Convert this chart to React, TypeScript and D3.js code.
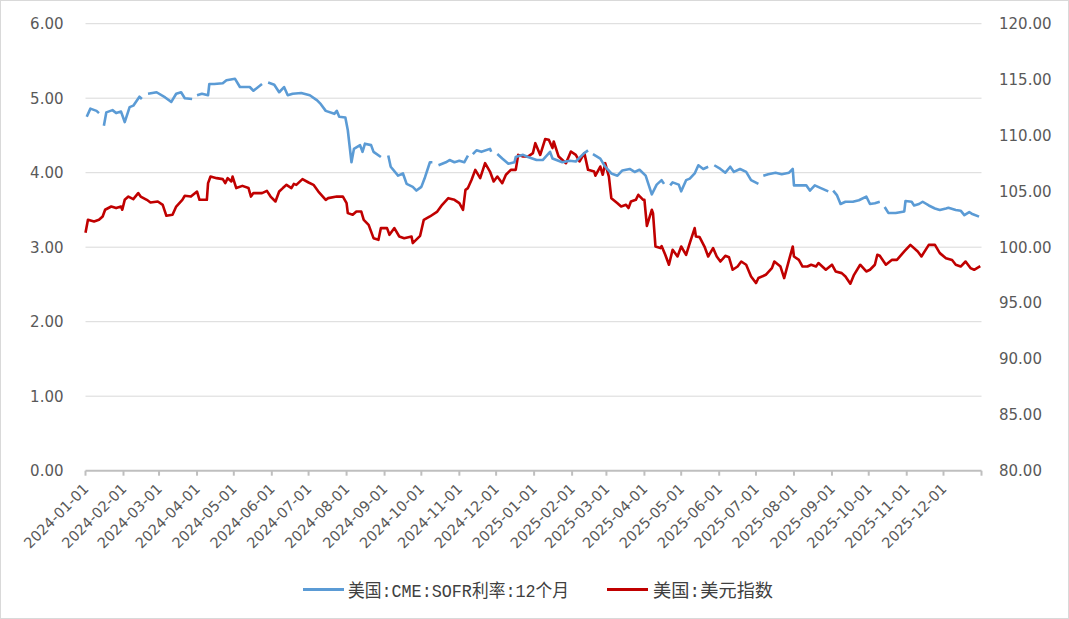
import React from "react";
import * as d3 from "d3";

// ---- Data ----
// 美国:CME:SOFR利率:12个月 (left axis, %); null = holiday gap
const sofrData: [string, number | null][] = [
  ["2024-01-02", 4.75], ["2024-01-05", 4.86], ["2024-01-10", 4.83], ["2024-01-12", 4.8], ["2024-01-15", null],
  ["2024-01-16", 4.63], ["2024-01-18", 4.81], ["2024-01-23", 4.84], ["2024-01-26", 4.8], ["2024-01-30", 4.82],
  ["2024-02-02", 4.68], ["2024-02-06", 4.88], ["2024-02-09", 4.9], ["2024-02-14", 5.02], ["2024-02-16", 4.99],
  ["2024-02-19", null], ["2024-02-21", 5.06], ["2024-02-28", 5.08], ["2024-03-06", 5.01], ["2024-03-11", 4.95],
  ["2024-03-15", 5.06], ["2024-03-19", 5.08], ["2024-03-22", 5.0], ["2024-03-28", 4.99], ["2024-03-29", null],
  ["2024-04-01", 5.04], ["2024-04-05", 5.06], ["2024-04-10", 5.04], ["2024-04-11", 5.19], ["2024-04-15", 5.19],
  ["2024-04-22", 5.2], ["2024-04-25", 5.24], ["2024-05-02", 5.26], ["2024-05-06", 5.15], ["2024-05-14", 5.15],
  ["2024-05-17", 5.1], ["2024-05-24", 5.19], ["2024-05-27", null], ["2024-05-29", 5.21], ["2024-06-03", 5.18],
  ["2024-06-07", 5.08], ["2024-06-11", 5.15], ["2024-06-14", 5.04], ["2024-06-18", 5.06], ["2024-06-25", 5.07],
  ["2024-07-02", 5.04], ["2024-07-08", 4.97], ["2024-07-11", 4.92], ["2024-07-15", 4.83], ["2024-07-22", 4.79],
  ["2024-07-24", 4.83], ["2024-07-26", 4.75], ["2024-07-31", 4.74], ["2024-08-02", 4.57], ["2024-08-05", 4.14],
  ["2024-08-07", 4.32], ["2024-08-12", 4.37], ["2024-08-14", 4.28], ["2024-08-16", 4.39], ["2024-08-21", 4.37],
  ["2024-08-23", 4.28], ["2024-08-29", 4.21], ["2024-09-02", null], ["2024-09-04", 4.23], ["2024-09-06", 4.08],
  ["2024-09-12", 3.96], ["2024-09-16", 3.99], ["2024-09-19", 3.85], ["2024-09-24", 3.81], ["2024-09-27", 3.76],
  ["2024-10-01", 3.81], ["2024-10-04", 3.94], ["2024-10-08", 4.14], ["2024-10-10", 4.14], ["2024-10-14", null],
  ["2024-10-15", 4.1], ["2024-10-21", 4.14], ["2024-10-24", 4.17], ["2024-10-28", 4.14], ["2024-11-01", 4.16],
  ["2024-11-05", 4.14], ["2024-11-08", 4.23], ["2024-11-11", null], ["2024-11-12", 4.25], ["2024-11-15", 4.3],
  ["2024-11-19", 4.28], ["2024-11-26", 4.32], ["2024-11-27", 4.28], ["2024-11-28", null], ["2024-12-02", 4.25],
  ["2024-12-06", 4.19], ["2024-12-11", 4.12], ["2024-12-16", 4.14], ["2024-12-17", 4.21], ["2024-12-23", 4.24],
  ["2024-12-27", 4.21], ["2025-01-03", 4.17], ["2025-01-08", 4.17], ["2025-01-14", 4.28], ["2025-01-16", 4.19],
  ["2025-01-24", 4.14], ["2025-01-30", 4.16], ["2025-02-04", 4.15], ["2025-02-10", 4.25], ["2025-02-14", 4.3],
  ["2025-02-17", null], ["2025-02-18", 4.25], ["2025-02-24", 4.19], ["2025-02-28", 4.08], ["2025-03-05", 3.99],
  ["2025-03-10", 3.96], ["2025-03-14", 4.03], ["2025-03-20", 4.05], ["2025-03-24", 4.01], ["2025-03-28", 4.04],
  ["2025-04-02", 3.96], ["2025-04-07", 3.71], ["2025-04-11", 3.84], ["2025-04-15", 3.9], ["2025-04-17", 3.85],
  ["2025-04-18", null], ["2025-04-22", 3.83], ["2025-04-24", 3.87], ["2025-04-29", 3.84], ["2025-05-01", 3.75],
  ["2025-05-05", 3.9], ["2025-05-08", 3.92], ["2025-05-12", 3.99], ["2025-05-15", 4.1], ["2025-05-19", 4.05],
  ["2025-05-23", 4.08], ["2025-05-26", null], ["2025-05-28", 4.1], ["2025-06-02", 4.05], ["2025-06-06", 4.0],
  ["2025-06-10", 4.08], ["2025-06-13", 4.01], ["2025-06-18", 4.05], ["2025-06-23", 4.01], ["2025-06-27", 3.9],
  ["2025-07-03", 3.85], ["2025-07-04", null], ["2025-07-07", 3.96], ["2025-07-11", 3.98], ["2025-07-17", 4.0],
  ["2025-07-22", 3.98], ["2025-07-28", 4.0], ["2025-07-31", 4.05], ["2025-08-01", 3.83], ["2025-08-04", 3.83],
  ["2025-08-11", 3.83], ["2025-08-14", 3.76], ["2025-08-18", 3.83], ["2025-08-22", 3.8], ["2025-08-29", 3.75],
  ["2025-09-01", null], ["2025-09-02", 3.76], ["2025-09-05", 3.7], ["2025-09-08", 3.58], ["2025-09-12", 3.61],
  ["2025-09-18", 3.61], ["2025-09-23", 3.63], ["2025-09-29", 3.68], ["2025-10-02", 3.58], ["2025-10-06", 3.59],
  ["2025-10-10", 3.61], ["2025-10-13", null], ["2025-10-14", 3.54], ["2025-10-17", 3.46], ["2025-10-23", 3.46],
  ["2025-10-30", 3.48], ["2025-10-31", 3.62], ["2025-11-05", 3.61], ["2025-11-07", 3.56], ["2025-11-11", 3.58],
  ["2025-11-14", 3.61], ["2025-11-19", 3.56], ["2025-11-24", 3.52], ["2025-11-28", 3.5], ["2025-12-03", 3.52],
  ["2025-12-05", 3.53], ["2025-12-11", 3.5], ["2025-12-15", 3.49], ["2025-12-18", 3.43], ["2025-12-22", 3.47],
  ["2025-12-24", 3.45], ["2025-12-30", 3.41],
];

// 美国:美元指数 (right axis)
const dxyData: [string, number][] = [
  ["2024-01-01", 101.3], ["2024-01-03", 102.45], ["2024-01-08", 102.3], ["2024-01-12", 102.45], ["2024-01-15", 102.75],
  ["2024-01-17", 103.35], ["2024-01-22", 103.64], ["2024-01-26", 103.5], ["2024-01-30", 103.64], ["2024-01-31", 103.35],
  ["2024-02-02", 104.24], ["2024-02-05", 104.53], ["2024-02-09", 104.3], ["2024-02-13", 104.84], ["2024-02-15", 104.53],
  ["2024-02-20", 104.24], ["2024-02-23", 104.0], ["2024-02-29", 104.09], ["2024-03-04", 103.79], ["2024-03-07", 102.81],
  ["2024-03-12", 102.9], ["2024-03-15", 103.64], ["2024-03-20", 104.24], ["2024-03-22", 104.6], ["2024-03-27", 104.53],
  ["2024-04-01", 104.98], ["2024-04-03", 104.24], ["2024-04-09", 104.24], ["2024-04-10", 105.73], ["2024-04-12", 106.32],
  ["2024-04-17", 106.18], ["2024-04-22", 106.09], ["2024-04-24", 105.73], ["2024-04-26", 106.18], ["2024-04-29", 105.88],
  ["2024-04-30", 106.32], ["2024-05-03", 105.29], ["2024-05-08", 105.49], ["2024-05-13", 105.29], ["2024-05-15", 104.53],
  ["2024-05-17", 104.84], ["2024-05-22", 104.84], ["2024-05-24", 104.84], ["2024-05-28", 105.04], ["2024-05-31", 104.53],
  ["2024-06-04", 104.09], ["2024-06-07", 104.98], ["2024-06-10", 105.29], ["2024-06-13", 105.58], ["2024-06-17", 105.29],
  ["2024-06-19", 105.67], ["2024-06-21", 105.58], ["2024-06-26", 106.09], ["2024-07-01", 105.79], ["2024-07-05", 105.58],
  ["2024-07-09", 104.98], ["2024-07-15", 104.24], ["2024-07-17", 104.39], ["2024-07-24", 104.53], ["2024-07-29", 104.53],
  ["2024-08-01", 103.94], ["2024-08-02", 103.05], ["2024-08-06", 102.9], ["2024-08-09", 103.19], ["2024-08-13", 103.19],
  ["2024-08-15", 102.45], ["2024-08-19", 102.0], ["2024-08-23", 100.81], ["2024-08-27", 100.66], ["2024-08-29", 101.71],
  ["2024-09-03", 101.71], ["2024-09-05", 101.11], ["2024-09-09", 101.71], ["2024-09-13", 100.96], ["2024-09-17", 100.81],
  ["2024-09-23", 100.96], ["2024-09-24", 100.37], ["2024-09-30", 101.02], ["2024-10-03", 102.45], ["2024-10-08", 102.75],
  ["2024-10-14", 103.19], ["2024-10-18", 103.79], ["2024-10-23", 104.39], ["2024-10-28", 104.24], ["2024-11-01", 103.94],
  ["2024-11-04", 103.35], ["2024-11-06", 105.13], ["2024-11-08", 105.29], ["2024-11-11", 106.03], ["2024-11-14", 106.92],
  ["2024-11-18", 106.18], ["2024-11-22", 107.52], ["2024-11-26", 106.77], ["2024-11-29", 105.88], ["2024-12-02", 106.32],
  ["2024-12-06", 105.73], ["2024-12-09", 106.48], ["2024-12-13", 106.92], ["2024-12-17", 106.92], ["2024-12-19", 108.26],
  ["2024-12-23", 108.11], ["2024-12-27", 108.11], ["2024-12-31", 108.42], ["2025-01-02", 109.31], ["2025-01-06", 108.26],
  ["2025-01-10", 109.67], ["2025-01-13", 109.61], ["2025-01-16", 108.87], ["2025-01-17", 109.46], ["2025-01-21", 108.11],
  ["2025-01-27", 107.52], ["2025-01-31", 108.56], ["2025-02-04", 108.26], ["2025-02-07", 107.67], ["2025-02-11", 108.42],
  ["2025-02-14", 106.92], ["2025-02-19", 106.77], ["2025-02-20", 106.4], ["2025-02-24", 107.22], ["2025-02-26", 106.48],
  ["2025-02-28", 107.52], ["2025-03-03", 106.32], ["2025-03-05", 104.39], ["2025-03-10", 103.94], ["2025-03-13", 103.64],
  ["2025-03-17", 103.79], ["2025-03-19", 103.5], ["2025-03-21", 104.09], ["2025-03-25", 104.24], ["2025-03-27", 104.69],
  ["2025-03-31", 104.24], ["2025-04-01", 104.24], ["2025-04-03", 101.91], ["2025-04-07", 103.35], ["2025-04-08", 103.05],
  ["2025-04-10", 100.06], ["2025-04-14", 99.92], ["2025-04-15", 100.1], ["2025-04-18", 99.32], ["2025-04-21", 98.43],
  ["2025-04-24", 99.77], ["2025-04-28", 99.17], ["2025-05-01", 100.06], ["2025-05-05", 99.32], ["2025-05-08", 100.37],
  ["2025-05-12", 101.71], ["2025-05-13", 100.96], ["2025-05-16", 100.9], ["2025-05-20", 100.06], ["2025-05-23", 99.17],
  ["2025-05-27", 99.92], ["2025-05-30", 99.17], ["2025-06-02", 98.72], ["2025-06-06", 99.23], ["2025-06-09", 99.1],
  ["2025-06-12", 97.98], ["2025-06-16", 98.27], ["2025-06-19", 98.72], ["2025-06-23", 98.43], ["2025-06-27", 97.38],
  ["2025-07-01", 96.79], ["2025-07-03", 97.24], ["2025-07-09", 97.53], ["2025-07-14", 98.13], ["2025-07-16", 98.72],
  ["2025-07-21", 98.27], ["2025-07-24", 97.24], ["2025-07-28", 98.87], ["2025-07-31", 100.06], ["2025-08-01", 99.17],
  ["2025-08-05", 98.87], ["2025-08-08", 98.27], ["2025-08-12", 98.27], ["2025-08-15", 98.43], ["2025-08-19", 98.27],
  ["2025-08-21", 98.58], ["2025-08-27", 97.98], ["2025-09-01", 98.43], ["2025-09-04", 97.83], ["2025-09-09", 97.68],
  ["2025-09-12", 97.38], ["2025-09-16", 96.73], ["2025-09-19", 97.53], ["2025-09-24", 98.43], ["2025-09-29", 97.83],
  ["2025-10-02", 97.98], ["2025-10-06", 98.43], ["2025-10-08", 99.32], ["2025-10-10", 99.23], ["2025-10-15", 98.43],
  ["2025-10-20", 98.87], ["2025-10-24", 98.87], ["2025-10-30", 99.62], ["2025-11-04", 100.21], ["2025-11-10", 99.62],
  ["2025-11-13", 99.17], ["2025-11-19", 100.21], ["2025-11-24", 100.21], ["2025-11-28", 99.47], ["2025-12-03", 99.02],
  ["2025-12-08", 98.85], ["2025-12-11", 98.43], ["2025-12-15", 98.27], ["2025-12-19", 98.72], ["2025-12-23", 98.13],
  ["2025-12-26", 97.98], ["2025-12-31", 98.3],
];

const leftTicks = [0, 1, 2, 3, 4, 5, 6];
const rightTicks = [80, 85, 90, 95, 100, 105, 110, 115, 120];
const seriesNames = ["美国:CME:SOFR利率:12个月", "美国:美元指数"];
const seriesColors = ["#5b9bd5", "#c00000"];

const W = 1069;
const H = 619;
const X0 = 85.5;
const X1 = 981.5;
const YTOP = 23.7;
const YBOT = 470.7;

const parse = d3.timeParse("%Y-%m-%d");
const fmt = d3.timeFormat("%Y-%m-%d");

export default function App() {
  const x = d3
    .scaleTime()
    .domain([new Date(2024, 0, 1), new Date(2026, 0, 1)])
    .range([X0, X1]);
  const yL = d3.scaleLinear().domain([0, 6]).range([YBOT, YTOP]);
  const yR = d3.scaleLinear().domain([80, 120]).range([YBOT, YTOP]);

  const monthTicks = d3.timeMonth.range(new Date(2024, 0, 1), new Date(2026, 0, 2));

  const sofrLine = d3
    .line<[string, number | null]>()
    .defined((d) => d[1] !== null)
    .x((d) => x(parse(d[0]) as Date))
    .y((d) => yL(d[1] as number));
  const dxyLine = d3
    .line<[string, number]>()
    .x((d) => x(parse(d[0]) as Date))
    .y((d) => yR(d[1]));

  const labelFont = "'DejaVu Sans', sans-serif";
  const textColor = "#595959";

  return (
    <div style={{ position: "absolute", left: 0, top: 0 }}>
      <svg width={W} height={H} style={{ display: "block", background: "#fff" }}>
        <rect x={0.5} y={0.5} width={W - 1} height={H - 1} fill="#fff" stroke="#d9d9d9" />
        {/* gridlines */}
        {leftTicks.slice(1).map((t) => (
          <line
            key={"g" + t}
            x1={X0}
            x2={X1}
            y1={yL(t)}
            y2={yL(t)}
            stroke="#d9d9d9"
            strokeWidth={1}
          />
        ))}
        {/* x axis */}
        <line x1={X0} x2={X1} y1={YBOT} y2={YBOT} stroke="#bfbfbf" strokeWidth={2} />
        {monthTicks.map((m) => (
          <line
            key={"t" + m.getTime()}
            x1={x(m)}
            x2={x(m)}
            y1={YBOT}
            y2={YBOT + 5}
            stroke="#bfbfbf"
            strokeWidth={2}
          />
        ))}
        {monthTicks
          .filter((m) => m < new Date(2026, 0, 1))
          .map((m) => {
            const tx = x(m) + 4;
            const ty = YBOT + 19;
            return (
              <text
                key={"l" + m.getTime()}
                x={tx}
                y={ty}
                transform={`rotate(-45 ${tx} ${ty})`}
                textAnchor="end"
                fontFamily={labelFont}
                fontSize={14.5}
                fill={textColor}
              >
                {fmt(m)}
              </text>
            );
          })}
        {/* left axis labels */}
        {leftTicks.map((t) => (
          <text
            key={"yl" + t}
            x={63.5}
            y={yL(t)}
            dy="0.36em"
            textAnchor="end"
            fontFamily={labelFont}
            fontSize={15}
            fill={textColor}
          >
            {t.toFixed(2)}
          </text>
        ))}
        {/* right axis labels */}
        {rightTicks.map((t) => (
          <text
            key={"yr" + t}
            x={999}
            y={yR(t)}
            dy="0.36em"
            textAnchor="start"
            fontFamily={labelFont}
            fontSize={15}
            fill={textColor}
          >
            {t.toFixed(2)}
          </text>
        ))}
        {/* series */}
        <path
          d={dxyLine(dxyData) || ""}
          fill="none"
          stroke={seriesColors[1]}
          strokeWidth={2.6}
          strokeLinejoin="round"
        />
        <path
          d={sofrLine(sofrData) || ""}
          fill="none"
          stroke={seriesColors[0]}
          strokeWidth={2.6}
          strokeLinejoin="round"
        />
        {/* legend */}
        <line x1={303} x2={344} y1={589.5} y2={589.5} stroke={seriesColors[0]} strokeWidth={3} />
        <text
          x={348}
          y={597}
          fontFamily="'Liberation Mono', 'Noto Sans CJK SC', monospace"
          fontSize={18}
          fill="#404040"
          textLength={221}
          lengthAdjust="spacingAndGlyphs"
        >
          {seriesNames[0]}
        </text>
        <line x1={607} x2={648} y1={589.5} y2={589.5} stroke={seriesColors[1]} strokeWidth={3} />
        <text
          x={653}
          y={597}
          fontFamily="'Liberation Mono', 'Noto Sans CJK SC', monospace"
          fontSize={18}
          fill="#404040"
          textLength={120}
          lengthAdjust="spacingAndGlyphs"
        >
          {seriesNames[1]}
        </text>
      </svg>
    </div>
  );
}
